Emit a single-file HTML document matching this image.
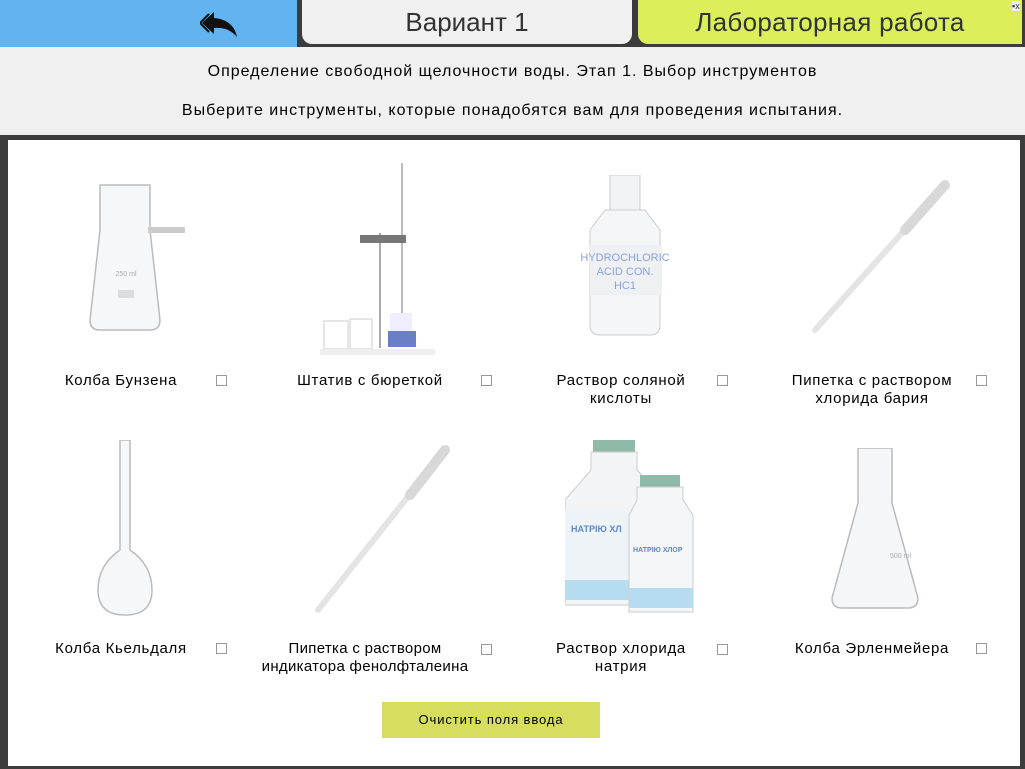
<!DOCTYPE html>
<html><head><meta charset="utf-8"><style>
*{margin:0;padding:0;box-sizing:border-box}
body{width:1025px;height:769px;background:#3c3c3c;position:relative;overflow:hidden;font-family:"Liberation Sans",sans-serif;}
.hdr{position:absolute;left:0;top:47px;width:1025px;height:88px;background:#f0f0f0}
.tab{position:absolute;top:0;height:44px;font-size:26px;color:#333;text-align:center;line-height:44px}
.panel{position:absolute;left:8px;top:140px;width:1012px;height:626px;background:#fff}
.lbl{position:absolute;width:240px;text-align:center;font-size:15px;line-height:18px;color:#000;letter-spacing:0.7px}
.cb{position:absolute;width:11px;height:11px;border:1px solid #999;background:#fff}
svg{position:absolute}
</style></head><body>
<div style="position:absolute;left:0;top:0;width:297px;height:47px;background:#62b4f0"></div>
<svg style="left:200px;top:10px" width="40" height="28" viewBox="0 0 40 28"><path d="M14 2 L2 13 L14 24 L14 18 C24 17 31 20 37 27 C35 16 27 9 14 8 Z" fill="#111"/><path d="M9 4 L0 13 L9 22" fill="none" stroke="#111" stroke-width="2"/></svg>
<div class="tab" style="left:302px;width:330px;background:#f0f0f0;border-radius:0 0 10px 10px">Вариант 1</div>
<div class="tab" style="left:638px;width:384px;background:#dcef5b;border-radius:0 0 0 10px;height:44px;letter-spacing:0.3px">Лабораторная работа</div>
<div style="position:absolute;left:1012px;top:1px;font-size:9px;color:#333;background:#eee">▪x</div>
<div class="hdr">
<div style="position:absolute;top:16px;width:1025px;text-align:center;font-size:16px;letter-spacing:1px">Определение свободной щелочности воды. Этап 1. Выбор инструментов</div>
<div style="position:absolute;top:55px;width:1025px;text-align:center;font-size:16px;letter-spacing:1px">Выберите инструменты, которые понадобятся вам для проведения испытания.</div>
</div>
<div class="panel"></div>

<svg style="left:80px;top:180px" width="110" height="160"><path d="M20 5 H70 V50 L80 140 Q80 150 70 150 H20 Q10 150 10 140 L20 50 Z" fill="#f6f7f8" stroke="#bbb" stroke-width="1.5"/><path d="M68 50 H105" stroke="#ccc" stroke-width="6"/><rect x="38" y="110" width="16" height="8" fill="#ddd"/><text x="46" y="96" font-size="7" fill="#aaa" text-anchor="middle" font-family="Liberation Sans">250 ml</text></svg>
<svg style="left:320px;top:163px" width="120" height="200"><line x1="82" y1="0" x2="82" y2="150" stroke="#bbb" stroke-width="2"/><line x1="60" y1="70" x2="60" y2="185" stroke="#aaa" stroke-width="2"/><rect x="40" y="72" width="46" height="8" fill="#777"/><rect x="70" y="150" width="22" height="20" fill="#eef"/><rect x="68" y="168" width="28" height="16" fill="#6a7fc8"/><rect x="4" y="158" width="24" height="28" fill="none" stroke="#ccc"/><rect x="30" y="156" width="22" height="30" fill="none" stroke="#ccc"/><rect x="0" y="186" width="115" height="6" fill="#eee"/></svg>
<svg style="left:580px;top:175px" width="90" height="190"><rect x="30" y="0" width="30" height="35" fill="#f2f3f4" stroke="#ccc"/><path d="M25 35 H65 L80 55 V150 Q80 160 70 160 H20 Q10 160 10 150 V55 Z" fill="#f4f6f8" stroke="#ccc"/><rect x="10" y="70" width="72" height="50" fill="#eef0f4"/><text x="45" y="86" font-size="11" fill="#8aa2d8" text-anchor="middle" font-family="Liberation Sans">HYDROCHLORIC</text><text x="45" y="100" font-size="11" fill="#8aa2d8" text-anchor="middle" font-family="Liberation Sans">ACID CON.</text><text x="45" y="114" font-size="11" fill="#8aa2d8" text-anchor="middle" font-family="Liberation Sans">HC1</text></svg>
<svg style="left:810px;top:180px" width="140" height="160"><line x1="135" y1="5" x2="5" y2="150" stroke="#e4e4e4" stroke-width="6" stroke-linecap="round"/><line x1="135" y1="5" x2="95" y2="50" stroke="#d8d8d8" stroke-width="10" stroke-linecap="round"/></svg>
<svg style="left:90px;top:440px" width="70" height="180"><path d="M30 0 H40 V110 Q62 125 62 150 Q62 175 35 175 Q8 175 8 150 Q8 125 30 110 Z" fill="#f6f7f8" stroke="#bbb" stroke-width="1.5"/></svg>
<svg style="left:310px;top:445px" width="140" height="170"><line x1="135" y1="5" x2="8" y2="165" stroke="#e4e4e4" stroke-width="6" stroke-linecap="round"/><line x1="135" y1="5" x2="100" y2="50" stroke="#d8d8d8" stroke-width="10" stroke-linecap="round"/></svg>
<svg style="left:565px;top:440px" width="140" height="180"><rect x="28" y="0" width="42" height="12" fill="#8fb9a8"/><path d="M26 12 H72 V30 L100 60 V165 H0 V60 L26 30 Z" fill="#f2f4f6" stroke="#ccc"/><rect x="0" y="70" width="100" height="75" fill="#eef3f8"/><rect x="0" y="140" width="100" height="20" fill="#b7dbef"/><rect x="75" y="35" width="40" height="12" fill="#8fb9a8"/><path d="M72 47 H118 V60 L128 75 V172 H64 V75 L72 60 Z" fill="#f4f6f8" stroke="#ccc"/><rect x="64" y="148" width="64" height="20" fill="#b7dbef"/><text x="6" y="92" font-size="9" fill="#5a8ac6" font-weight="bold" font-family="Liberation Sans">НАТРІЮ ХЛ</text><text x="68" y="112" font-size="7" fill="#5a8ac6" font-weight="bold" font-family="Liberation Sans">НАТРІЮ ХЛОР</text></svg>
<svg style="left:830px;top:448px" width="90" height="170"><path d="M28 0 H62 V55 L88 150 Q88 160 78 160 H12 Q2 160 2 150 L28 55 Z" fill="#f5f6f7" stroke="#bbb" stroke-width="1.5"/><text x="60" y="110" font-size="7" fill="#aaa" font-family="Liberation Sans">500 ml</text></svg>

<div class="lbl" style="left:1px;top:372px">Колба Бунзена</div><div class="cb" style="left:216px;top:375px"></div>
<div class="lbl" style="left:250px;top:372px">Штатив с бюреткой</div><div class="cb" style="left:481px;top:375px"></div>
<div class="lbl" style="left:501px;top:372px">Раствор соляной<br>кислоты</div><div class="cb" style="left:717px;top:375px"></div>
<div class="lbl" style="left:752px;top:372px">Пипетка с раствором<br>хлорида бария</div><div class="cb" style="left:976px;top:375px"></div>

<div class="lbl" style="left:1px;top:640px">Колба Кьельдаля</div><div class="cb" style="left:216px;top:643px"></div>
<div class="lbl" style="left:245px;top:640px;letter-spacing:0.3px">Пипетка с раствором<br>индикатора фенолфталеина</div><div class="cb" style="left:481px;top:644px"></div>
<div class="lbl" style="left:501px;top:640px">Раствор хлорида<br>натрия</div><div class="cb" style="left:717px;top:644px"></div>
<div class="lbl" style="left:752px;top:640px">Колба Эрленмейера</div><div class="cb" style="left:976px;top:643px"></div>

<div style="position:absolute;left:382px;top:702px;width:218px;height:36px;background:#d7dd5f;text-align:center;line-height:36px;font-size:13px;letter-spacing:0.9px">Очистить поля ввода</div>
</body></html>
